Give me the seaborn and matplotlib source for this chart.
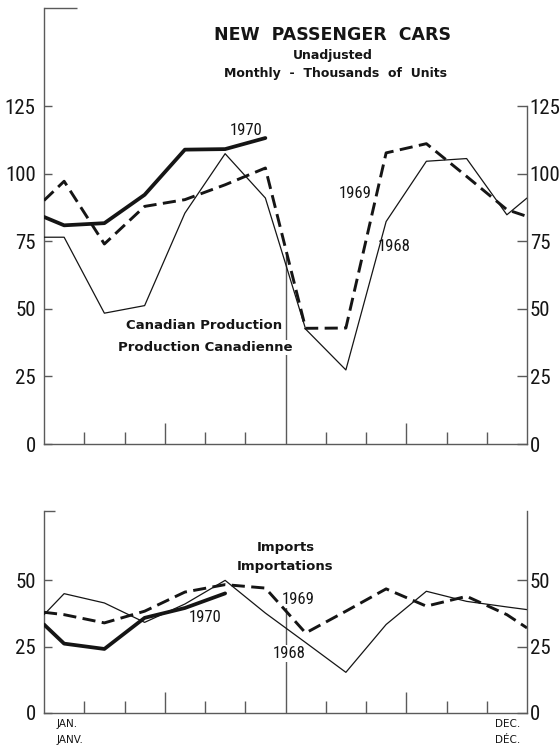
import numpy as np
import pandas as pd
import matplotlib
matplotlib.use("Agg")
import matplotlib.pyplot as plt
import seaborn as sns
from matplotlib.ticker import FixedLocator
from matplotlib import font_manager

# ---------------- data (thousands of units) ----------------
# first/last values are where each line meets the left/right frame (year boundary)
years = ["1968", "1969", "1970"]
prod_1968 = [76.5, 76.5, 48.4, 51.2, 85.4, 107.4, 91.0, 42.5, 27.4, 82.3, 104.6, 105.6, 84.8, 91.0]
prod_1969 = [90.1, 97.2, 74.0, 87.9, 90.4, 95.9, 102.1, 42.8, 42.9, 107.7, 111.1, 99.0, 86.7, 84.2]
prod_1970 = [84.0, 80.9, 81.7, 92.2, 108.9, 109.1, 113.2]
imp_1968 = [37.0, 44.9, 41.4, 34.1, 41.0, 49.9, 37.6, 26.5, 15.3, 33.3, 45.8, 42.0, 39.9, 38.9]
imp_1969 = [37.9, 37.0, 33.9, 38.3, 45.5, 48.3, 47.0, 30.1, 38.3, 46.7, 40.2, 43.9, 37.0, 32.0]
imp_1970 = [33.3, 26.1, 24.1, 35.8, 39.5, 45.0]

prod_ticks = [0, 25, 50, 75, 100, 125]
imp_ticks = [0, 25, 50]

# month positions: frame edge, mid-month points, frame edge
positions = [0.0] + [m + 0.5 for m in range(12)] + [12.0]


def frame(series):
    rows = []
    for yr, vals in series.items():
        for p, v in zip(positions, vals):
            rows.append({"year": yr, "month": p, "value": v})
    return pd.DataFrame(rows)


df_prod = frame({"1968": prod_1968, "1969": prod_1969, "1970": prod_1970})
df_imp = frame({"1968": imp_1968, "1969": imp_1969, "1970": imp_1970})

# ---------------- styling ----------------
sns.set_theme(style="white")
plt.rcParams["font.family"] = ["DejaVu Sans"]
INK = "#151515"
AX = "#5a5a5a"

# pick a narrow face for the numerals if one is installed
fonts = font_manager.fontManager.ttflist
num_font = None
for name in ["Liberation Sans Narrow", "Roboto Condensed", "Open Sans Condensed"]:
    if any(f.name == name for f in fonts):
        num_font = dict(family=name, size=15)
        ann_font = dict(family=name, size=12)
        break
if num_font is None:
    for fam in ["DejaVu Sans", "Noto Sans", "Open Sans", "Roboto"]:
        if any(f.name == fam and str(f.stretch) in ("condensed", "semi-condensed", "75", "87.5")
               for f in fonts):
            num_font = dict(family=fam, stretch="condensed", size=14)
            ann_font = dict(family=fam, stretch="condensed", size=11)
            break
if num_font is None:
    num_font = dict(family="DejaVu Sans", size=11)
    ann_font = dict(family="DejaVu Sans", size=9.5)

W, H = 560, 751
fig = plt.figure(figsize=(W / 100, H / 100), dpi=100)


def rect(x0, x1, ytop, ybot):
    return [x0 / W, 1 - ybot / H, (x1 - x0) / W, (ybot - ytop) / H]


ax1 = fig.add_axes(rect(44, 527, 8, 444))
ax2 = fig.add_axes(rect(44, 527, 511, 713))

palette = {y: INK for y in years}
sizes = {"1968": 0.9, "1969": 2.1, "1970": 2.7}
dashes = {"1968": "", "1969": (4.5, 2.2), "1970": ""}


def setup(ax, df, ymax, ticks, right_top, top_len, center_top):
    sns.lineplot(data=df, x="month", y="value", hue="year", style="year", size="year",
                 palette=palette, sizes=sizes, dashes=dashes, estimator=None,
                 legend=False, ax=ax, zorder=3)
    ax.set_xlim(0, 12)
    ax.set_ylim(0, ymax)
    ax.set_xlabel("")
    ax.set_ylabel("")
    for s in ["top", "right"]:
        ax.spines[s].set_visible(False)
    for s in ["left", "bottom"]:
        ax.spines[s].set_color(AX)
        ax.spines[s].set_linewidth(1.0)
    ax.set_yticks(ticks)
    ax.set_yticklabels([str(t) for t in ticks], fontdict=num_font, color=INK)
    ax.yaxis.set_minor_locator(FixedLocator([ymax]))
    ax.tick_params(axis="y", which="major", direction="in", length=6, width=1,
                   color=AX, pad=6, left=True)
    ax.tick_params(axis="y", which="minor", direction="in", length=top_len, width=1,
                   color=AX, left=True)
    ax.set_xticks([3, 9])
    ax.set_xticklabels([])
    ax.xaxis.set_minor_locator(FixedLocator([1, 2, 4, 5, 7, 8, 10, 11]))
    ax.tick_params(axis="x", which="major", direction="in", length=15, width=1,
                   color=AX, bottom=True)
    ax.tick_params(axis="x", which="minor", direction="in", length=8.5, width=1,
                   color=AX, bottom=True)
    ax.vlines(6, 0, center_top, color=AX, lw=1.0, zorder=1)
    ax.grid(False)

    axr = ax.twinx()
    axr.set_ylim(0, ymax)
    axr.set_yticks(ticks)
    axr.set_yticklabels([str(t) for t in ticks], fontdict=num_font, color=INK)
    for s in ["top", "left", "bottom"]:
        axr.spines[s].set_visible(False)
    axr.spines["right"].set_color(AX)
    axr.spines["right"].set_linewidth(1.0)
    axr.spines["right"].set_bounds(0, right_top)
    axr.tick_params(axis="y", direction="in", length=7, width=1, color=AX,
                    pad=2, right=True)
    axr.grid(False)
    return axr


setup(ax1, df_prod, 161.3, prod_ticks, 125, 24, 70)
setup(ax2, df_imp, 76.0, imp_ticks, 76.0, 8, 44)

bg = dict(facecolor="white", edgecolor="none", pad=0.6)
lab = dict(ha="center", va="center", color=INK, zorder=2)

# top panel annotations
ax1.text(5.02, 116.0, "1970", fontdict=ann_font, **lab)
ax1.text(7.74, 92.8, "1969", fontdict=ann_font, bbox=bg, **lab)
ax1.text(8.71, 72.9, "1968", fontdict=ann_font, **lab)
ax1.text(3.98, 43.8, "Canadian Production", fontsize=9.5, fontweight="bold", bbox=bg, **lab)
ax1.text(4.0, 35.6, "Production Canadienne", fontsize=9.5, fontweight="bold", bbox=bg, **lab)

# bottom panel annotations
ax2.text(4.0, 35.9, "1970", fontdict=ann_font, **lab)
ax2.text(6.31, 42.7, "1969", fontdict=ann_font, bbox=bg, **lab)
ax2.text(6.09, 22.5, "1968", fontdict=ann_font, bbox=bg, **lab)
ax2.text(6.02, 62.2, "Imports", fontsize=9.5, fontweight="bold", **lab)
ax2.text(6.0, 55.1, "Importations", fontsize=9.5, fontweight="bold", **lab)

# titles
fig.text(333 / W, 1 - 35 / H, "NEW  PASSENGER  CARS", ha="center", va="center",
         fontsize=12.5, fontweight="bold", color=INK)
fig.text(333 / W, 1 - 55 / H, "Unadjusted", ha="center", va="center",
         fontsize=9, fontweight="bold", color=INK)
fig.text(335 / W, 1 - 74 / H, "Monthly  -  Thousands  of  Units", ha="center", va="center",
         fontsize=9, fontweight="bold", color=INK)

# month labels under the bottom panel
fig.text(57 / W, 1 - 724 / H, "JAN.", ha="left", va="center", fontsize=7.5, color=INK)
fig.text(57 / W, 1 - 740 / H, "JANV.", ha="left", va="center", fontsize=7.5, color=INK)
fig.text(520 / W, 1 - 724 / H, "DEC.", ha="right", va="center", fontsize=7.5, color=INK)
fig.text(520 / W, 1 - 740 / H, "DÉC.", ha="right", va="center", fontsize=7.5, color=INK)

fig.savefig("out.png", dpi=100, facecolor="white")
